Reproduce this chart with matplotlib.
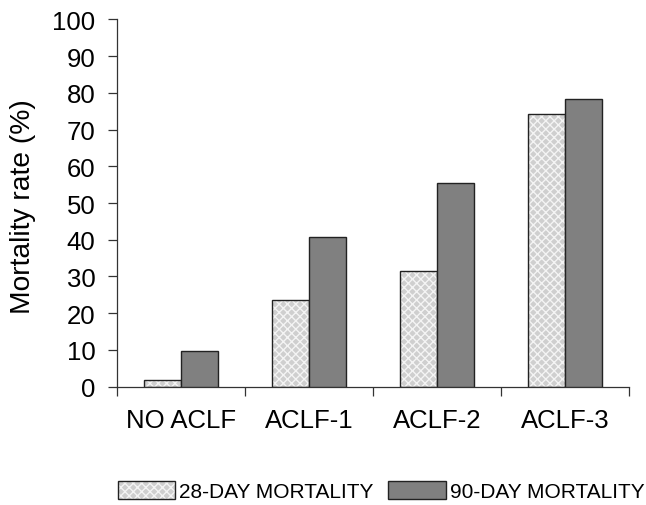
import matplotlib
matplotlib.use("Agg")
import matplotlib.pyplot as plt
from matplotlib.patches import Patch
import numpy as np

plt.rcParams['font.family'] = ['Liberation Sans', 'DejaVu Sans']

# Dati
categories = ['NO ACLF', 'ACLF-1', 'ACLF-2', 'ACLF-3']
mortality_28 = [1.8, 23.5, 31.4, 74.3]
mortality_90 = [9.6, 40.8, 55.5, 78.3]
series_labels = ['28-DAY MORTALITY', '90-DAY MORTALITY']

fig = plt.figure(figsize=(6.46, 5.06), dpi=100)
ax = fig.add_axes([117 / 646, 1 - 387.7 / 506, 512 / 646, 367.4 / 506])

x = np.arange(len(categories))
w = 0.29

# barre 28 giorni: riempimento tratteggiato + bordo nero
ax.bar(x - w / 2, mortality_28, w, color='#cfcfcf', hatch='xxxx',
       edgecolor='#f4f4f4', linewidth=0, zorder=2)
ax.bar(x - w / 2, mortality_28, w, fill=False, edgecolor='#222222',
       linewidth=1.0, zorder=3)
# barre 90 giorni
ax.bar(x + w / 2, mortality_90, w, color='#808080', edgecolor='#222222',
       linewidth=1.0, zorder=3)

ax.set_xlim(-0.5, len(categories) - 0.5)
ax.set_ylim(0, 100)
ax.set_yticks(range(0, 101, 10))
ax.tick_params(axis='y', labelsize=18.5, length=6.5, width=0.9,
               color='#333333', pad=9)

ax.set_xticks(x)
ax.set_xticklabels(categories)
ax.set_xticks(np.arange(-0.5, len(categories), 1.0), minor=True)
ax.tick_params(axis='x', which='major', labelsize=18.5, length=0, pad=15)
ax.tick_params(axis='x', which='minor', length=6.5, width=0.9, color='#333333')

for s in ['top', 'right']:
    ax.spines[s].set_visible(False)
for s in ['left', 'bottom']:
    ax.spines[s].set_linewidth(0.9)
    ax.spines[s].set_color('#333333')

fig.text(23.5 / 646, 1 - 206.5 / 506, 'Mortality rate (%)', rotation=90,
         ha='center', va='center', fontsize=20.3)

h28 = (Patch(facecolor='#cfcfcf', hatch='xxxx', edgecolor='#f4f4f4', linewidth=0),
       Patch(fill=False, edgecolor='#222222', linewidth=1.0))
h90 = Patch(facecolor='#808080', edgecolor='#222222', linewidth=1.0)
fig.legend([h28, h90], series_labels, loc='center', ncol=2, frameon=False,
           bbox_to_anchor=(381 / 646, 1 - 492 / 506), fontsize=15,
           handlelength=2.75, handleheight=0.93, handletextpad=0.2,
           columnspacing=0.72, borderaxespad=0, borderpad=0)

fig.savefig('out.png', dpi=100)
